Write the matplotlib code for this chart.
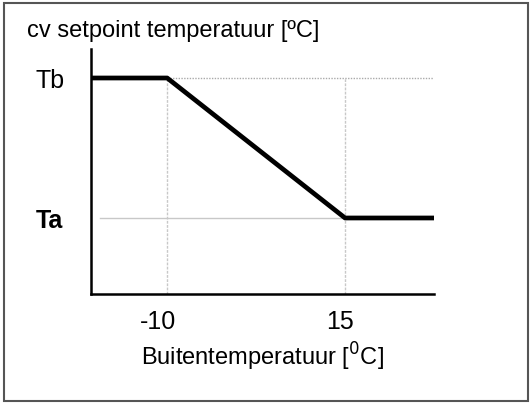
import matplotlib.pyplot as plt
from matplotlib.patches import Rectangle
from matplotlib.transforms import ScaledTranslation

plt.rcParams['font.family'] = ['Liberation Sans', 'DejaVu Sans']

# heating curve: outside temperature -> setpoint level (Ta=1, Tb=2)
x_curve = [-20.7, -10, 15, 27.5]
y_curve = [2, 2, 1, 1]
x_ticks = [-10, 15]
x_tick_labels = ['-10', '15']
y_ticks = [1, 2]
y_tick_labels = ['Ta', 'Tb']

fig = plt.figure(figsize=(5.32, 4.06), dpi=100)
ax = fig.add_axes([0.1711, 0.2734, 0.6447, 0.6034])

# helper lines
ax.plot([-10, 27.5], [2, 2], color='#aaaaaa', lw=1, ls=(0, (1, 1)))
ax.plot([-19.4, 15], [1, 1], color='#c8c8c8', lw=1)
for xv in x_ticks:
    ax.plot([xv, xv], [0.457, 2], color='#c8c8c8', lw=1, ls=(0, (2, 1)))

ax.plot(x_curve, y_curve, color='black', lw=3.4, solid_capstyle='butt')

ax.set_xlim(-20.7, 27.5)
ax.set_ylim(0.457, 2.207)
for s in ['top', 'right']:
    ax.spines[s].set_visible(False)
for s in ['left', 'bottom']:
    ax.spines[s].set_linewidth(1.8)

ax.set_xticks(x_ticks)
ax.set_xticklabels(x_tick_labels, fontsize=18)
ax.set_yticks(y_ticks)
ax.set_yticklabels(y_tick_labels, fontsize=18, ha='left')
ax.get_yticklabels()[0].set_fontweight('bold')
ax.tick_params(axis='x', length=0, pad=11)
ax.tick_params(axis='y', length=0, pad=40)
# labels sit a little left of their gridlines in the original
for lab, dx in zip(ax.get_xticklabels(), [-9, -5]):
    lab.set_transform(lab.get_transform() + ScaledTranslation(dx / 100, 0, fig.dpi_scale_trans))

ax.set_xlabel('Buitentemperatuur [$^{\\mathsf{0}}$C]', fontsize=17, labelpad=5)
fig.text(27 / 532, 1 - 37 / 406, 'cv setpoint temperatuur [ºC]', fontsize=17)

fig.patches.append(Rectangle((4 / 532, 4 / 406), 524 / 532, 398 / 406,
                             transform=fig.transFigure, fill=False,
                             edgecolor='#555555', lw=1.5))

fig.savefig('out.png', dpi=100)
